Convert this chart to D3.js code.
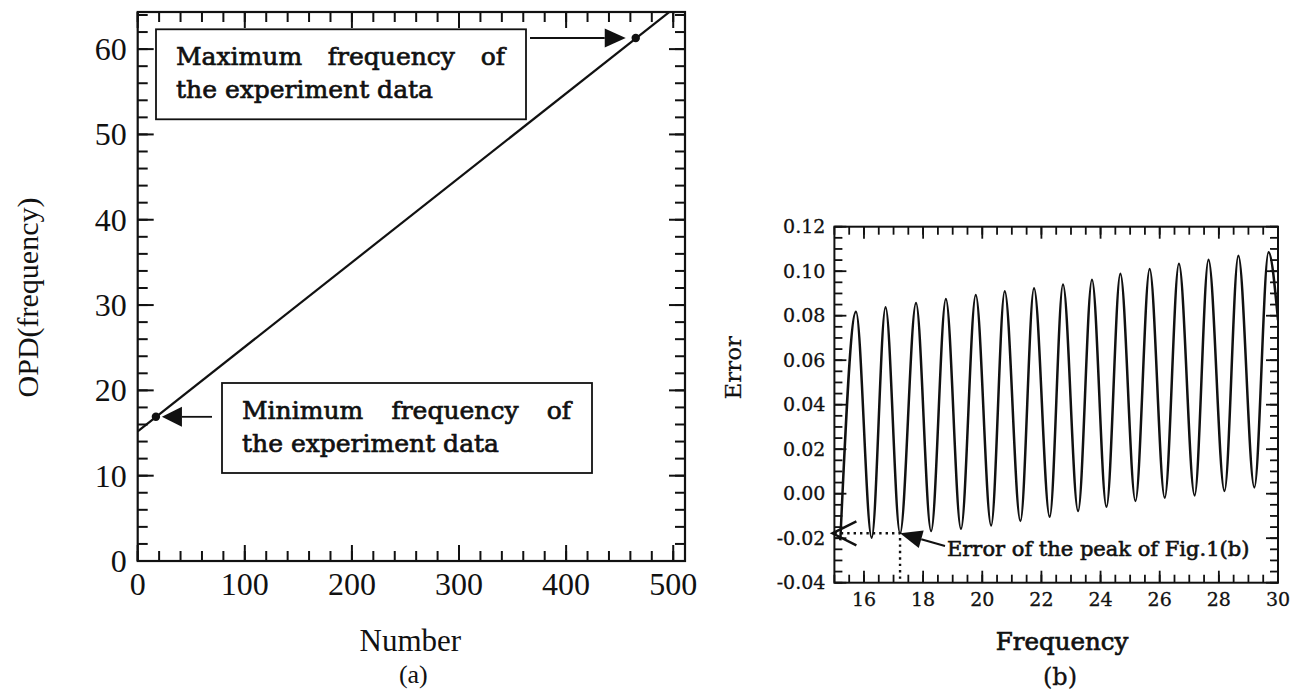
<!DOCTYPE html>
<html>
<head>
<meta charset="utf-8">
<script src="https://cdn.jsdelivr.net/npm/d3@7"></script>
<style>
  body { margin: 0; background: #fff; }
  svg { display: block; }
</style>
</head>
<body>
<svg id="chart" width="1300" height="695"></svg>
<script>
// ---------- Panel (a): OPD against sample number ----------
const numberTicks = [0, 100, 200, 300, 400, 500];
const opdTicks = [0, 10, 20, 30, 40, 50, 60];
// straight-line fit (end points)
const fitNumber = [0, 511];
const fitOPD = [15.2, 65.8];
// marked extremes of the experiment data
const minMark = { number: 17, opd: 16.9 };
const maxMark = { number: 465, opd: 61.3 };

// ---------- Panel (b): error against frequency ----------
const freqTicks = [16, 18, 20, 22, 24, 26, 28, 30];
const errorTicks = [-0.04, -0.02, 0.00, 0.02, 0.04, 0.06, 0.08, 0.10, 0.12];
// turning points of the error curve
const errFreq = [
  15.20, 15.73, 16.26, 16.73, 17.22, 17.76, 18.27, 18.77, 19.28, 19.78,
  20.30, 20.76, 21.29, 21.75, 22.28, 22.73, 23.24, 23.71, 24.20, 24.67,
  25.18, 25.66, 26.17, 26.65, 27.18, 27.65, 28.19, 28.66, 29.20, 29.68, 30.00
];
const errValue = [
  -0.0210, 0.0818, -0.0198, 0.0838, -0.0178, 0.0857, -0.0168, 0.0875, -0.0158, 0.0893,
  -0.0143, 0.0910, -0.0123, 0.0923, -0.0104, 0.0940, -0.0078, 0.0962, -0.0059, 0.0988,
  -0.0033, 0.1010, -0.0018, 0.1033, -0.0008, 0.1052, 0.0012, 0.1070, 0.0028, 0.1085, 0.0780
];
const peakMark = { freq: 17.22, err: -0.0178 };

const svg = d3.select("#chart");
const INK = "#111";
const TIMES = "'Liberation Serif', 'Times New Roman', serif";
const SCHOOL = "'DejaVu Serif', serif";

// plot frames
const A = { left: 137.7, right: 685, top: 12, bottom: 561 };
const B = { left: 834.4, right: 1278, top: 226.7, bottom: 582.7 };

const xa = d3.scaleLinear().domain([0, 511]).range([A.left, A.right]);
const ya = d3.scaleLinear().domain([0, 64.35]).range([A.bottom, A.top]);
const xb = d3.scaleLinear().domain([15, 30]).range([B.left, B.right]);
const yb = d3.scaleLinear().domain([-0.04, 0.12]).range([B.bottom, B.top]);

// inward ticks on all four sides, labels on bottom and left
function frame(g, box, x, y, cfg) {
  const tickG = g.append("g").attr("stroke", INK).attr("stroke-width", cfg.tickW);
  const sets = [
    { vals: cfg.xMinor, len: cfg.minorLen, horiz: true },
    { vals: cfg.xMajor, len: cfg.majorLen, horiz: true },
    { vals: cfg.yMinor, len: cfg.minorLen, horiz: false },
    { vals: cfg.yMajor, len: cfg.majorLen, horiz: false }
  ];
  sets.forEach(s => {
    if (s.horiz) {
      tickG.selectAll(null).data(s.vals).join("line")
        .attr("x1", d => x(d)).attr("x2", d => x(d))
        .attr("y1", box.bottom).attr("y2", box.bottom - s.len);
      tickG.selectAll(null).data(s.vals).join("line")
        .attr("x1", d => x(d)).attr("x2", d => x(d))
        .attr("y1", box.top).attr("y2", box.top + s.len);
    } else {
      tickG.selectAll(null).data(s.vals).join("line")
        .attr("y1", d => y(d)).attr("y2", d => y(d))
        .attr("x1", box.left).attr("x2", box.left + s.len);
      tickG.selectAll(null).data(s.vals).join("line")
        .attr("y1", d => y(d)).attr("y2", d => y(d))
        .attr("x1", box.right).attr("x2", box.right - s.len);
    }
  });
  const lab = g.append("g").attr("fill", INK)
    .style("font-family", cfg.font).style("font-size", cfg.fontSize + "px")
    .attr("stroke", cfg.textStroke ? INK : null)
    .attr("stroke-width", cfg.textStroke || null);
  lab.selectAll(null).data(cfg.xMajor).join("text")
    .attr("x", d => x(d)).attr("y", box.bottom + cfg.xPad).attr("dy", "0.71em")
    .attr("text-anchor", "middle").text(cfg.xFmt);
  lab.selectAll(null).data(cfg.yMajor).join("text")
    .attr("x", box.left - cfg.yPad).attr("y", d => y(d)).attr("dy", "0.34em")
    .attr("text-anchor", "end").text(cfg.yFmt);
  g.append("rect")
    .attr("x", box.left).attr("y", box.top)
    .attr("width", box.right - box.left).attr("height", box.bottom - box.top)
    .attr("fill", "none").attr("stroke", INK).attr("stroke-width", cfg.frameW);
}

function arrowHead(g, tip, from, len, half) {
  const dx = tip[0] - from[0], dy = tip[1] - from[1];
  const d = Math.hypot(dx, dy), ux = dx / d, uy = dy / d;
  const bx = tip[0] - ux * len, by = tip[1] - uy * len;
  g.append("path")
    .attr("d", `M${tip[0]},${tip[1]}L${bx - uy * half},${by + ux * half}L${bx + uy * half},${by - ux * half}Z`)
    .attr("fill", INK);
  return [bx, by];
}

// ================= Panel (a) =================
const ga = svg.append("g");
ga.append("clipPath").attr("id", "clipA").append("rect")
  .attr("x", A.left).attr("y", A.top).attr("width", A.right - A.left).attr("height", A.bottom - A.top);

frame(ga, A, xa, ya, {
  xMajor: numberTicks, xMinor: d3.range(0, 511, 20),
  yMajor: opdTicks, yMinor: d3.range(0, 65, 2),
  majorLen: 16, minorLen: 10, tickW: 2, frameW: 2.2,
  xPad: 11, yPad: 11, font: TIMES, fontSize: 32,
  xFmt: d3.format("d"), yFmt: d3.format("d")
});

const fitData = fitNumber.map((n, i) => [n, fitOPD[i]]);
ga.append("path").datum(fitData)
  .attr("clip-path", "url(#clipA)")
  .attr("d", d3.line().x(d => xa(d[0])).y(d => ya(d[1])))
  .attr("fill", "none").attr("stroke", INK).attr("stroke-width", 2.2);

[minMark, maxMark].forEach(m => {
  ga.append("circle").attr("cx", xa(m.number)).attr("cy", ya(m.opd))
    .attr("r", 4.2).attr("fill", INK);
});

// annotation boxes; first line justified across the box by widening word gaps
function noteBox(g, left, top, lines) {
  g.append("rect").attr("x", left).attr("y", top).attr("width", 370).attr("height", 90)
    .attr("fill", "#fff").attr("stroke", INK).attr("stroke-width", 1.8);
  const t = g.append("g").style("font-family", SCHOOL).style("font-size", "25px")
    .attr("fill", INK).attr("stroke", INK).attr("stroke-width", 0.7);
  const first = t.append("text").attr("x", left + 20).attr("y", top + 36).text(lines[0]);
  const natural = first.node().getComputedTextLength();
  const gaps = lines[0].split(" ").length - 1;
  first.style("word-spacing", ((329 - natural) / gaps) + "px");
  t.append("text").attr("x", left + 20).attr("y", top + 69).text(lines[1]);
}
const maxBox = { left: A.left + 18.3, top: A.top + 17.3 };
const minBox = { left: A.left + 84.3, top: A.top + 371 };
noteBox(ga, maxBox.left, maxBox.top, ["Maximum frequency of", "the experiment data"]);
noteBox(ga, minBox.left, minBox.top, ["Minimum frequency of", "the experiment data"]);

// arrow to maximum point
{
  const tip = [xa(maxMark.number) - 10, ya(maxMark.opd)];
  const tail = [maxBox.left + 374, tip[1]];
  const base = arrowHead(ga, tip, tail, 21, 9.5);
  ga.append("line").attr("x1", tail[0]).attr("y1", tail[1]).attr("x2", base[0]).attr("y2", base[1])
    .attr("stroke", INK).attr("stroke-width", 1.8);
}
// arrow to minimum point
{
  const tip = [xa(minMark.number) + 6, ya(minMark.opd)];
  const tail = [minBox.left - 10, tip[1]];
  const base = arrowHead(ga, tip, tail, 20, 10);
  ga.append("line").attr("x1", tail[0]).attr("y1", tail[1]).attr("x2", base[0]).attr("y2", base[1])
    .attr("stroke", INK).attr("stroke-width", 1.8);
}

ga.append("text").attr("transform", `translate(38,${(A.top + A.bottom) / 2 + 11}) rotate(-90)`)
  .attr("text-anchor", "middle").style("font-family", TIMES).style("font-size", "30px")
  .attr("fill", INK).text("OPD(frequency)");
ga.append("text").attr("x", (A.left + A.right) / 2 - 1).attr("y", 651)
  .attr("text-anchor", "middle").style("font-family", TIMES).style("font-size", "31px")
  .attr("fill", INK).text("Number");
ga.append("text").attr("x", (A.left + A.right) / 2 + 2).attr("y", 683)
  .attr("text-anchor", "middle").style("font-family", TIMES).style("font-size", "26px")
  .attr("fill", INK).text("(a)");

// ================= Panel (b) =================
const gb = svg.append("g");
gb.append("clipPath").attr("id", "clipB").append("rect")
  .attr("x", B.left).attr("y", B.top).attr("width", B.right - B.left).attr("height", B.bottom - B.top);

frame(gb, B, xb, yb, {
  xMajor: freqTicks, xMinor: d3.range(0, 31).map(i => 15 + i * 0.5),
  yMajor: errorTicks, yMinor: d3.range(0, 33).map(i => -0.04 + i * 0.005),
  majorLen: 12, minorLen: 8, tickW: 1.8, frameW: 2,
  xPad: 10, yPad: 9, font: SCHOOL, fontSize: 19, textStroke: 0.3,
  xFmt: d3.format("d"), yFmt: d => d.toFixed(2)
});

const errData = errFreq.map((f, i) => [f, errValue[i]]);
gb.append("path").datum(errData)
  .attr("clip-path", "url(#clipB)")
  .attr("d", d3.line().curve(d3.curveMonotoneX).x(d => xb(d[0])).y(d => yb(d[1])))
  .attr("fill", "none").attr("stroke", INK).attr("stroke-width", 2.5)
  .attr("stroke-linejoin", "round");

// dotted guides to the marked trough
const px = xb(peakMark.freq), py = yb(peakMark.err);
gb.append("path")
  .attr("d", `M${B.left},${py}H${px}V${B.bottom}`)
  .attr("fill", "none").attr("stroke", INK).attr("stroke-width", 2.4)
  .attr("stroke-dasharray", "2.4,4");

// open arrowhead on the left axis
gb.append("path")
  .attr("d", `M${B.left + 22},${py - 12}L${B.left - 2},${py}L${B.left + 22},${py + 12}`)
  .attr("fill", "none").attr("stroke", INK).attr("stroke-width", 2.4);

// labelled arrow
const noteX = 947, noteY = 556;
{
  const tail = [noteX - 2, noteY - 10];
  const base = arrowHead(gb, [px, py], tail, 22, 9);
  gb.append("line").attr("x1", tail[0]).attr("y1", tail[1]).attr("x2", base[0]).attr("y2", base[1])
    .attr("stroke", INK).attr("stroke-width", 2);
}
gb.append("text").attr("x", noteX).attr("y", noteY)
  .style("font-family", SCHOOL).style("font-size", "21px")
  .attr("fill", INK).attr("stroke", INK).attr("stroke-width", 0.6)
  .text("Error of the peak of Fig.1(b)");

gb.append("text").attr("transform", `translate(741,${(B.top + B.bottom) / 2 - 37}) rotate(-90)`)
  .attr("text-anchor", "middle").style("font-family", SCHOOL).style("font-size", "23px")
  .attr("fill", INK).attr("stroke", INK).attr("stroke-width", 0.2).text("Error");
gb.append("text").attr("x", 1062).attr("y", 650)
  .attr("text-anchor", "middle").style("font-family", SCHOOL).style("font-size", "24.5px")
  .attr("fill", INK).attr("stroke", INK).attr("stroke-width", 0.7).text("Frequency");
gb.append("text").attr("x", 1060).attr("y", 685)
  .attr("text-anchor", "middle").style("font-family", SCHOOL).style("font-size", "24px")
  .attr("fill", INK).attr("stroke", INK).attr("stroke-width", 0.3).text("(b)");
</script>
</body>
</html>
